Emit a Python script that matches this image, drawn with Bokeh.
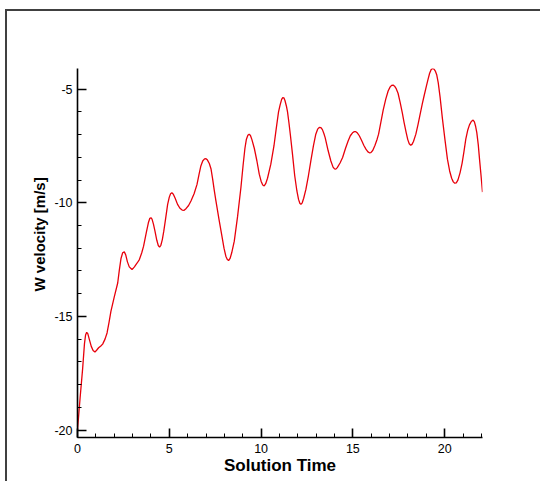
from bokeh.plotting import figure
from bokeh.models import FixedTicker, Range1d, PrintfTickFormatter, Title
from bokeh.embed import file_html
from bokeh.resources import INLINE

# Solution time samples and the W velocity component at each of them
time_s = [
    0.00, 0.14, 0.28, 0.38, 0.44, 0.50, 0.56, 0.64, 0.75, 0.85, 0.95, 1.05,
    1.15, 1.27, 1.37, 1.50, 1.61, 1.72, 1.82, 2.00, 2.19, 2.28, 2.37, 2.46,
    2.55, 2.63, 2.72, 2.82, 2.97, 3.10, 3.25, 3.37, 3.50, 3.60, 3.75, 3.86,
    3.94, 4.00, 4.06, 4.14, 4.22, 4.32, 4.40, 4.47, 4.54, 4.62, 4.70, 4.80,
    4.91, 5.00, 5.07, 5.14, 5.22, 5.32, 5.45, 5.58, 5.70, 5.81, 5.92, 6.05,
    6.18, 6.35, 6.51, 6.62, 6.72, 6.82, 6.92, 7.00, 7.08, 7.18, 7.27, 7.36,
    7.45, 7.54, 7.70, 7.85, 7.98, 8.08, 8.16, 8.23, 8.31, 8.40, 8.54, 8.72,
    8.90, 9.02, 9.12, 9.20, 9.28, 9.35, 9.42, 9.50, 9.63, 9.77, 9.90, 10.00,
    10.09, 10.17, 10.25, 10.35, 10.53, 10.70, 10.83, 10.95, 11.04, 11.12,
    11.18, 11.24, 11.30, 11.38, 11.44, 11.52, 11.60, 11.71, 11.83, 11.95,
    12.04, 12.11, 12.17, 12.24, 12.32, 12.44, 12.58, 12.71, 12.85, 12.98,
    13.08, 13.17, 13.26, 13.34, 13.42, 13.49, 13.65, 13.80, 13.92, 14.00,
    14.07, 14.15, 14.30, 14.44, 14.60, 14.74, 14.86, 14.98, 15.08, 15.16,
    15.25, 15.35, 15.47, 15.60, 15.71, 15.82, 15.90, 15.98, 16.08, 16.20,
    16.32, 16.40, 16.52, 16.65, 16.79, 16.92, 17.03, 17.12, 17.19, 17.27,
    17.36, 17.46, 17.58, 17.70, 17.79, 17.90, 17.99, 18.07, 18.15, 18.22,
    18.30, 18.43, 18.55, 18.65, 18.78, 18.88, 19.00, 19.10, 19.18, 19.26,
    19.34, 19.42, 19.50, 19.57, 19.65, 19.75, 19.88, 20.02, 20.15, 20.27,
    20.38, 20.47, 20.55, 20.63, 20.72, 20.84, 20.95, 21.05, 21.15, 21.25,
    21.35, 21.45, 21.55, 21.62, 21.68, 21.75, 21.83, 21.90, 21.98, 22.06,
]
w_velocity = [
    -20.00, -18.60, -17.30, -16.20, -15.82, -15.70, -15.76, -16.00, -16.32,
    -16.50, -16.57, -16.48, -16.38, -16.30, -16.22, -16.00, -15.73, -15.25,
    -14.78, -14.15, -13.53, -12.95, -12.45, -12.20, -12.16, -12.30, -12.60,
    -12.82, -12.94, -12.82, -12.65, -12.50, -12.20, -11.91, -11.30, -10.88,
    -10.68, -10.66, -10.72, -10.95, -11.25, -11.65, -11.88, -11.95, -11.87,
    -11.62, -11.25, -10.70, -10.07, -9.75, -9.60, -9.56, -9.62, -9.80,
    -10.07, -10.24, -10.32, -10.33, -10.25, -10.12, -9.92, -9.60, -9.19,
    -8.75, -8.38, -8.16, -8.07, -8.06, -8.12, -8.27, -8.50, -8.95, -9.45,
    -9.92, -10.70, -11.39, -12.00, -12.35, -12.50, -12.54, -12.45, -12.20,
    -11.69, -10.60, -9.34, -8.35, -7.60, -7.20, -7.03, -6.98, -7.04, -7.22,
    -7.60, -8.15, -8.74, -9.05, -9.22, -9.26, -9.16, -8.92, -8.30, -7.50,
    -6.70, -6.00, -5.68, -5.45, -5.37, -5.38, -5.50, -5.75, -6.00, -6.50,
    -7.05, -7.86, -8.80, -9.48, -9.85, -10.02, -10.07, -10.00, -9.80, -9.41,
    -8.80, -8.16, -7.50, -6.98, -6.76, -6.68, -6.69, -6.78, -6.95, -7.13,
    -7.70, -8.16, -8.43, -8.51, -8.52, -8.45, -8.25, -8.01, -7.60, -7.28,
    -7.05, -6.92, -6.87, -6.87, -6.93, -7.05, -7.25, -7.48, -7.64, -7.76,
    -7.80, -7.79, -7.70, -7.48, -7.20, -6.98, -6.47, -5.92, -5.44, -5.08,
    -4.90, -4.83, -4.82, -4.87, -4.98, -5.18, -5.60, -6.08, -6.47, -6.90,
    -7.22, -7.40, -7.47, -7.43, -7.30, -6.98, -6.55, -6.15, -5.65, -5.29,
    -4.88, -4.55, -4.30, -4.14, -4.09, -4.12, -4.22, -4.38, -4.72, -5.35,
    -6.32, -7.25, -8.08, -8.60, -8.92, -9.08, -9.14, -9.12, -9.00, -8.67,
    -8.25, -7.75, -7.20, -6.82, -6.57, -6.42, -6.36, -6.44, -6.62, -6.91,
    -7.45, -8.10, -8.80, -9.53,
]

x_major = [0, 5, 10, 15, 20]
x_minor = list(range(0, 23))
y_major = [-20, -15, -10, -5]
y_minor = list(range(-20, -4))

x_title = "Solution Time"
y_title = "W velocity [m/s]"

FONT = "Liberation Sans"

p = figure(
    width=535, height=472,
    output_backend="svg", toolbar_location=None,
    x_range=Range1d(0, 22.06), y_range=Range1d(-20.33, -4.09),
    min_border_left=70, min_border_top=57,
    min_border_right=60, min_border_bottom=46,
    outline_line_color=None,
    background_fill_color="white", border_fill_color="white",
)
# page frame: a thin dark rule along the left and top edges
p.styles = {
    "border-left": "2px solid #404040",
    "border-top": "2px solid #404040",
    "margin-left": "5px",
    "margin-top": "9px",
}
p.grid.visible = False

p.line(time_s, w_velocity, line_color="#e8000b", line_width=1.3)

p.xaxis.ticker = FixedTicker(ticks=x_major, minor_ticks=x_minor)
p.yaxis.ticker = FixedTicker(ticks=y_major, minor_ticks=y_minor)
p.xaxis.formatter = PrintfTickFormatter(format="%d")
p.yaxis.formatter = PrintfTickFormatter(format="%d")
p.xaxis.axis_label = x_title

for ax in (p.xaxis, p.yaxis):
    ax.axis_line_color = "black"
    ax.axis_line_width = 1.6
    ax.major_tick_in = 9
    ax.major_tick_out = 0
    ax.major_tick_line_width = 1.6
    ax.major_tick_line_color = "black"
    ax.minor_tick_in = 4
    ax.minor_tick_out = 0
    ax.minor_tick_line_width = 1
    ax.minor_tick_line_color = "black"
    ax.major_label_text_font = FONT
    ax.major_label_text_font_size = "12.5px"
    ax.major_label_text_color = "black"

p.xaxis.axis_label_text_font = FONT
p.xaxis.axis_label_text_font_size = "17px"
p.xaxis.axis_label_text_font_style = "bold"
p.xaxis.axis_label_text_color = "black"
p.xaxis.major_label_standoff = 6
p.xaxis.axis_label_standoff = 0
p.yaxis.major_label_standoff = 5

# vertical axis title, set a little above the middle of the axis
p.add_layout(Title(
    text=y_title, align="left", offset=146, standoff=8,
    text_font=FONT, text_font_size="15px", text_font_style="bold",
    text_color="black",
), "left")

open("out.html", "w").write(file_html(p, INLINE))
